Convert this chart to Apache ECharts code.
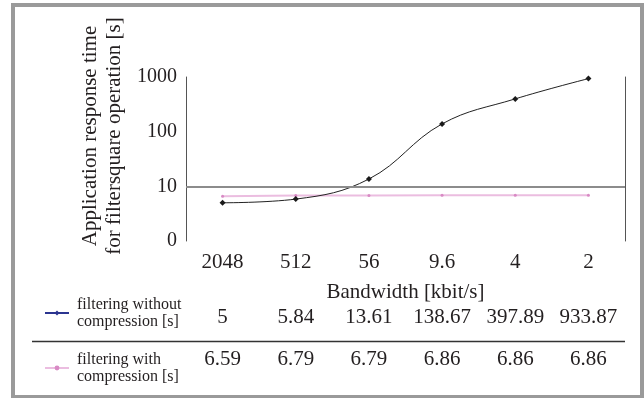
<!DOCTYPE html>
<html>
<head>
<meta charset="utf-8">
<script src="https://cdn.jsdelivr.net/npm/echarts@6/dist/echarts.min.js"></script>
<style>
html,body{margin:0;padding:0;background:#fff;}
#chart{width:644px;height:398px;}
</style>
</head>
<body>
<div id="chart"></div>
<script>
const categories = ['2048', '512', '56', '9.6', '4', '2'];
const withoutCompression = [5, 5.84, 13.61, 138.67, 397.89, 933.87];
const withCompression = [6.59, 6.79, 6.79, 6.86, 6.86, 6.86];
const seriesNames = ['filtering without compression [s]', 'filtering with compression [s]'];
const yAxisTitle = 'Application response time\nfor filtersquare operation [s]';
const xAxisTitle = 'Bandwidth [kbit/s]';

const FONT = '"Liberation Serif", "Times New Roman", serif';
const TEXT = '#231f20';

const chart = echarts.init(document.getElementById('chart'), null, {renderer: 'canvas'});

const hiddenRowAxis = (labels, offset) => ({
  type: 'category',
  gridIndex: 0,
  position: 'bottom',
  offset: offset,
  data: labels,
  axisLine: {show: false},
  axisTick: {show: false},
  splitLine: {show: false},
  axisLabel: {interval: 0, margin: 0, fontFamily: FONT, fontSize: 21, color: TEXT}
});

chart.setOption({
  animation: false,
  backgroundColor: '#fff',
  grid: {left: 186, right: 19, top: 77, bottom: 157, show: false},
  graphic: [
    {type: 'rect', shape: {x: 13, y: 5, width: 629, height: 392}, style: {fill: 'none', stroke: '#9a9a9a', lineWidth: 4}, z: 100},
    {type: 'line', shape: {x1: 32, y1: 341.5, x2: 625, y2: 341.5}, style: {stroke: '#333', lineWidth: 1.3}}
  ],
  legend: {
    orient: 'vertical',
    left: 39,
    top: 291,
    itemGap: 21,
    itemWidth: 24,
    itemHeight: 6,
    textStyle: {fontFamily: FONT, fontSize: 16, lineHeight: 17, color: TEXT, padding: [0, 0, 0, 3]},
    formatter: name => name.replace(' compression', '\ncompression'),
    data: [
      {name: seriesNames[0], itemStyle: {color: '#2b3590'}, lineStyle: {color: '#2b3590', width: 2}},
      {name: seriesNames[1], itemStyle: {color: '#d88ac4'}, lineStyle: {color: '#ebbde0', width: 2}}
    ]
  },
  xAxis: [
    {
      type: 'category',
      data: categories,
      boundaryGap: true,
      axisLine: {show: false},
      axisTick: {show: false},
      splitLine: {show: false},
      axisLabel: {interval: 0, margin: 11, fontFamily: FONT, fontSize: 21, color: TEXT},
      name: xAxisTitle,
      nameLocation: 'middle',
      nameGap: 41,
      nameTextStyle: {fontFamily: FONT, fontSize: 21, color: TEXT}
    },
    hiddenRowAxis(withoutCompression.map(v => String(v)), 66),
    hiddenRowAxis(withCompression.map(v => v.toFixed(2)), 108)
  ],
  yAxis: [
    {
      type: 'log',
      logBase: 10,
      min: 1,
      max: 1000,
      axisLine: {show: true, lineStyle: {color: '#555', width: 1}},
      axisTick: {show: false},
      splitLine: {show: false},
      axisLabel: {margin: 9, fontFamily: FONT, fontSize: 20, color: TEXT, formatter: v => (v === 1 ? '0' : String(v))},
      name: yAxisTitle,
      nameLocation: 'middle',
      nameRotate: 90,
      nameGap: 60,
      nameTextStyle: {fontFamily: FONT, fontSize: 21, lineHeight: 24, color: TEXT, padding: [0, 0, 0, 46]}
    },
    {
      type: 'log',
      logBase: 10,
      min: 1,
      max: 1000,
      position: 'right',
      axisLine: {show: true, lineStyle: {color: '#555', width: 1}},
      axisTick: {show: false},
      axisLabel: {show: false},
      splitLine: {show: false}
    }
  ],
  series: [
    {
      name: seriesNames[0],
      type: 'line',
      data: withoutCompression,
      smooth: 0.4,
      symbol: 'diamond',
      symbolSize: 6,
      itemStyle: {color: '#1a1a1a'},
      lineStyle: {color: '#222', width: 1},
      z: 3,
      markLine: {
        silent: true,
        symbol: 'none',
        label: {show: false},
        lineStyle: {color: '#8c8c8c', width: 2, type: 'solid'},
        data: [{yAxis: 10}]
      }
    },
    {
      name: seriesNames[1],
      type: 'line',
      data: withCompression,
      smooth: false,
      symbol: 'circle',
      symbolSize: 3,
      itemStyle: {color: '#d88ac4'},
      lineStyle: {color: '#ebbde0', width: 2},
      z: 2
    }
  ]
});
</script>
</body>
</html>
